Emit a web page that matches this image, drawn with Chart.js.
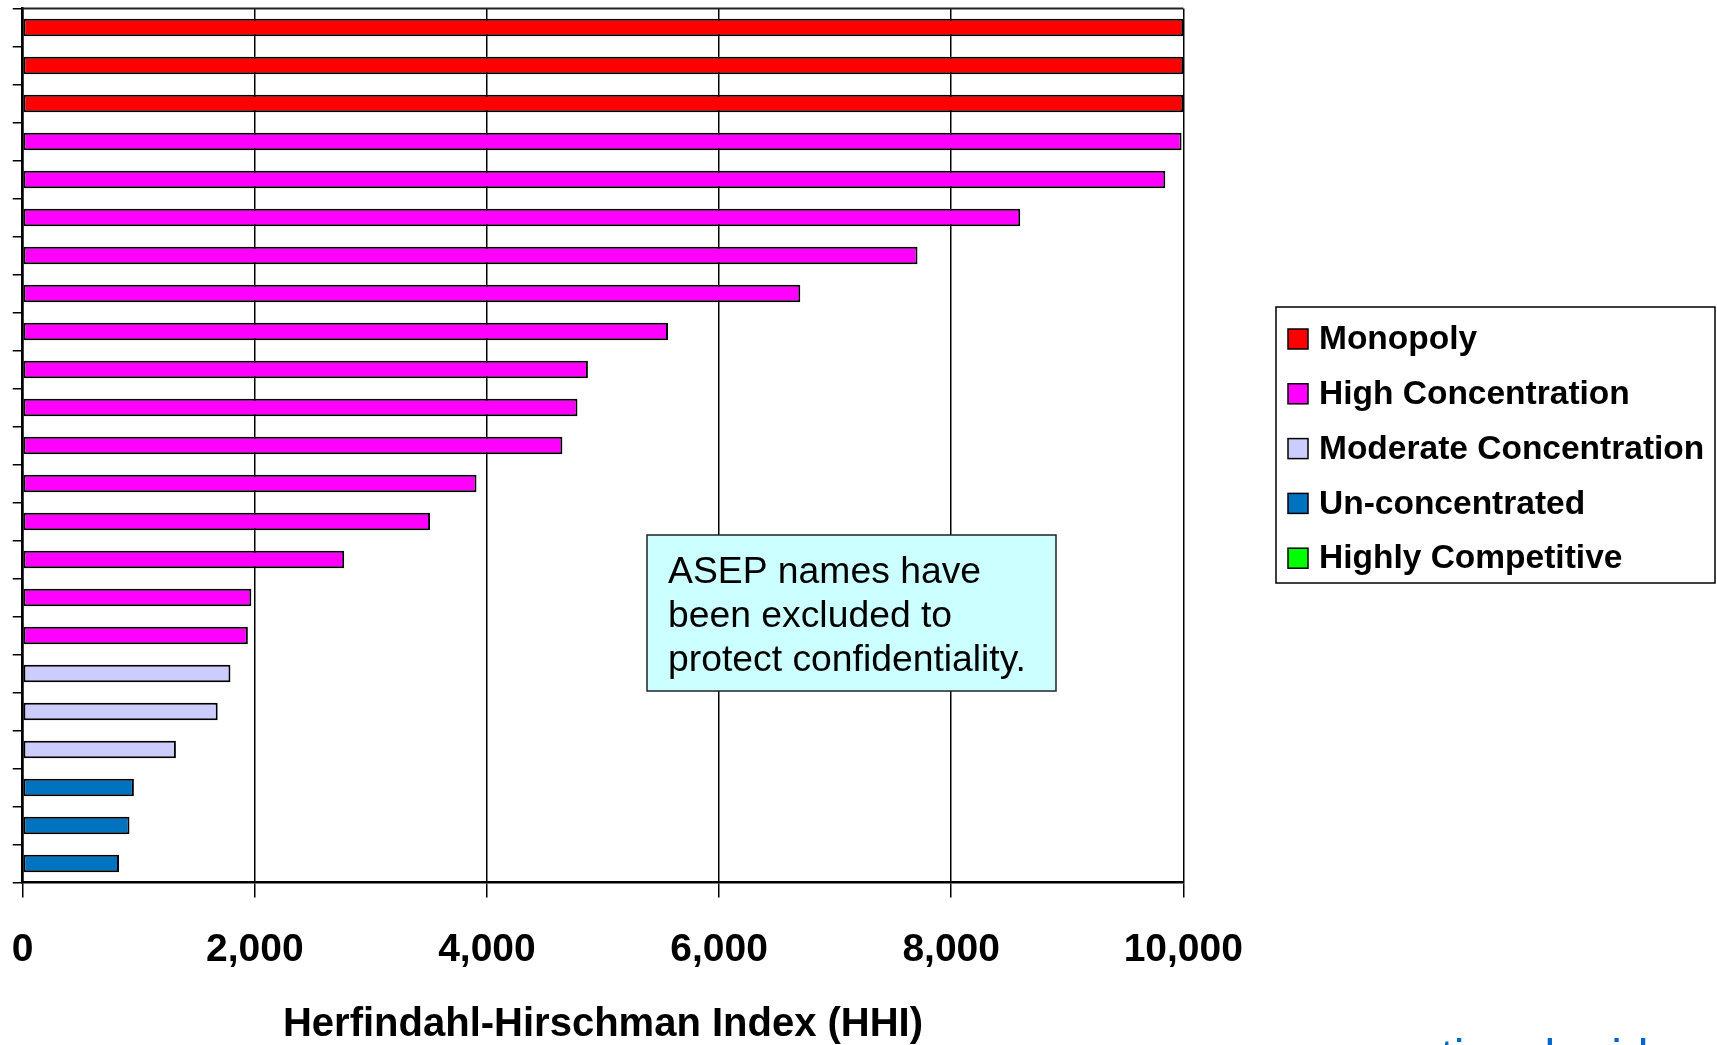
<!DOCTYPE html>
<html lang="en">

<head>
    <meta charset="UTF-8">
    <title>HHI by ASEP</title>
    <script src="https://cdn.jsdelivr.net/npm/chart.js@4.4.1/dist/chart.umd.min.js"></script>
    <style>
        body { margin: 0; background: #fff; }
        .chart-box { position: relative; width: 1717px; height: 1045px; }
    </style>
</head>

<body>
    <div class="chart-box">
        <canvas id="hhiChart"></canvas>
    </div>

    <script>
        // one entry per ASEP (names are not shown in the chart)
        const asepLabels = [
            'ASEP 1', 'ASEP 2', 'ASEP 3', 'ASEP 4', 'ASEP 5', 'ASEP 6', 'ASEP 7', 'ASEP 8',
            'ASEP 9', 'ASEP 10', 'ASEP 11', 'ASEP 12', 'ASEP 13', 'ASEP 14', 'ASEP 15', 'ASEP 16',
            'ASEP 17', 'ASEP 18', 'ASEP 19', 'ASEP 20', 'ASEP 21', 'ASEP 22', 'ASEP 23'
        ];
        const hhiValues = [
            10000, 10000, 10000, 9985, 9845, 8595, 7710, 6700,
            5560, 4870, 4780, 4650, 3910, 3510, 2770, 1970,
            1940, 1790, 1680, 1320, 958, 920, 830
        ];
        const asepGroup = [
            'Monopoly', 'Monopoly', 'Monopoly',
            'High Concentration', 'High Concentration', 'High Concentration', 'High Concentration',
            'High Concentration', 'High Concentration', 'High Concentration', 'High Concentration',
            'High Concentration', 'High Concentration', 'High Concentration', 'High Concentration',
            'High Concentration', 'High Concentration',
            'Moderate Concentration', 'Moderate Concentration', 'Moderate Concentration',
            'Un-concentrated', 'Un-concentrated', 'Un-concentrated'
        ];
        const groupNames = ['Monopoly', 'High Concentration', 'Moderate Concentration', 'Un-concentrated', 'Highly Competitive'];
        const xTicks = [0, 2000, 4000, 6000, 8000, 10000];

        const groupColors = {
            'Monopoly': '#ff0000',
            'High Concentration': '#ff00ff',
            'Moderate Concentration': '#ccccff',
            'Un-concentrated': '#0073c0',
            'Highly Competitive': '#00ff00'
        };

        const FONT = '"Liberation Sans", Arial, Helvetica, sans-serif';

        const withCommas = (v) => String(v).replace(/\B(?=(\d{3})+(?!\d))/g, ',');

        const datasets = groupNames.map(name => ({
            label: name,
            data: hhiValues.map((v, i) => asepGroup[i] === name ? v : null),
            backgroundColor: groupColors[name],
            borderColor: '#000',
            borderWidth: 2,
            borderSkipped: false,
            barPercentage: 0.46,
            categoryPercentage: 1
        }));

        // top edge of the plot frame
        const frame = {
            id: 'frame',
            afterDraw(chart) {
                const { ctx, chartArea: a } = chart;
                ctx.save();
                ctx.strokeStyle = '#222';
                ctx.lineWidth = 2;
                ctx.beginPath();
                ctx.moveTo(a.left, a.top);
                ctx.lineTo(a.right, a.top);
                ctx.stroke();
                ctx.restore();
            }
        };

        // boxed legend to the right of the plot
        const boxLegend = {
            id: 'boxLegend',
            afterDraw(chart) {
                const ctx = chart.ctx;
                ctx.save();
                ctx.fillStyle = '#fff';
                ctx.fillRect(1276, 307, 439, 276);
                ctx.strokeStyle = '#000';
                ctx.lineWidth = 1.5;
                ctx.strokeRect(1276, 307, 439, 276);
                ctx.font = 'bold 33.5px ' + FONT;
                ctx.textBaseline = 'middle';
                chart.data.datasets.forEach((ds, i) => {
                    const cy = 339 + i * 54.8;
                    ctx.fillStyle = ds.backgroundColor;
                    ctx.fillRect(1288, cy - 10, 20, 20);
                    ctx.strokeStyle = '#000';
                    ctx.lineWidth = 1.5;
                    ctx.strokeRect(1288, cy - 10, 20, 20);
                    ctx.fillStyle = '#000';
                    ctx.fillText(ds.label, 1319, cy + 1);
                });
                ctx.restore();
            }
        };

        // note box in the middle of the plot, plus the cut-off logo at the bottom edge
        const noteBox = {
            id: 'noteBox',
            afterDraw(chart) {
                const ctx = chart.ctx;
                ctx.save();
                ctx.fillStyle = '#ccffff';
                ctx.fillRect(647, 535, 409, 156);
                ctx.strokeStyle = '#222';
                ctx.lineWidth = 1.5;
                ctx.strokeRect(647, 535, 409, 156);
                ctx.fillStyle = '#000';
                ctx.font = '37.3px ' + FONT;
                ctx.textBaseline = 'alphabetic';
                ctx.fillText('ASEP names have', 668, 583);
                ctx.fillText('been excluded to', 668, 627);
                ctx.fillText('protect confidentiality.', 668, 671);

                ctx.fillStyle = '#0066cc';
                ctx.font = '48px ' + FONT;
                ctx.fillText('national grid', 1387, 1073);
                ctx.restore();
            }
        };

        new Chart(document.getElementById('hhiChart'), {
            type: 'bar',
            data: {
                labels: asepLabels,
                datasets: datasets
            },
            options: {
                indexAxis: 'y',
                responsive: true,
                maintainAspectRatio: false,
                animation: false,
                layout: {
                    padding: { left: 12.7, right: 533.7, top: 8.5, bottom: 0 }
                },
                plugins: {
                    legend: { display: false },
                    tooltip: { enabled: false }
                },
                scales: {
                    x: {
                        stacked: true,
                        min: 0,
                        max: 10000,
                        afterBuildTicks: (scale) => {
                            scale.ticks = xTicks.map(v => ({ value: v }));
                        },
                        // tick padding is only meant to push labels down, not to widen the sides
                        afterFit: (scale) => {
                            scale.paddingLeft = 0;
                            scale.paddingRight = 0;
                        },
                        ticks: {
                            color: '#000',
                            padding: 33.5,
                            font: { family: FONT, size: 39, weight: 'bold', lineHeight: 1 },
                            callback: (v) => withCommas(v)
                        },
                        grid: {
                            color: '#000',
                            lineWidth: 1.5,
                            drawTicks: true,
                            tickLength: 15
                        },
                        border: { color: '#000', width: 2.5 },
                        title: {
                            display: true,
                            text: 'Herfindahl-Hirschman Index (HHI)',
                            color: '#000',
                            font: { family: FONT, size: 40, weight: 'bold', lineHeight: 1 },
                            padding: { top: 1.5, bottom: 0 }
                        }
                    },
                    y: {
                        stacked: true,
                        ticks: { display: false },
                        grid: {
                            drawOnChartArea: false,
                            offset: true,
                            color: '#000',
                            lineWidth: 1.5,
                            tickLength: 10
                        },
                        border: { color: '#000', width: 2.5 }
                    }
                }
            },
            plugins: [frame, boxLegend, noteBox]
        });
    </script>
</body>

</html>
